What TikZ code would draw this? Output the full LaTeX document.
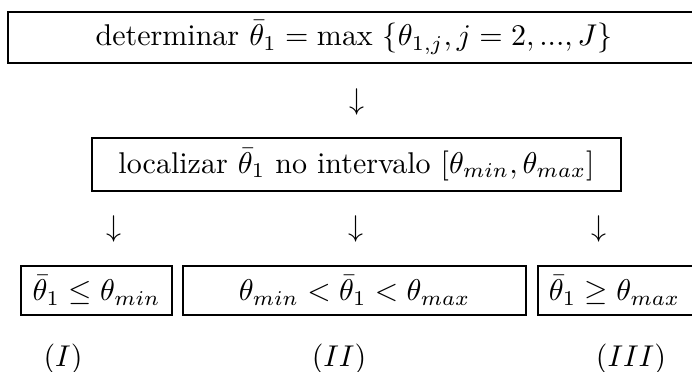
\documentclass[tikz,border=0pt]{standalone}
\def\pxu{0.333pt}
\begin{document}
\begin{tikzpicture}[x=\pxu,y=-\pxu,
  box/.style={draw, line width=0.55pt, inner sep=0pt},
  lbl/.style={inner sep=0pt}]
\useasboundingbox (0,0) rectangle (692,372);
\clip (0,0) rectangle (692,372);
\node[box, minimum width=692*\pxu, minimum height=51*\pxu] (top) at (354,37.5)
  {determinar $\bar\theta_1 = \max\ \{\theta_{1,j}, j=2,...,J\}$};
\node[lbl] (a1) at (357,101.5) {$\downarrow$};
\node[box, minimum width=529*\pxu, minimum height=53*\pxu] (mid) at (356.5,164.5)
  {localizar $\bar\theta_1$ no intervalo $[\theta_{min},\theta_{max}]$};
\node[lbl] (a2) at (114,229) {$\downarrow$};
\node[lbl] (a3) at (356,229) {$\downarrow$};
\node[lbl] (a4) at (599,229) {$\downarrow$};
\node[box, minimum width=151*\pxu, minimum height=49*\pxu] (b1) at (96.5,290.5)
  {$\bar\theta_1 \le \theta_{min}$};
\node[box, minimum width=343*\pxu, minimum height=49*\pxu] (b2) at (354.5,290.5)
  {$\theta_{min} < \bar\theta_1 < \theta_{max}$};
\node[box, anchor=west, inner xsep=11*\pxu, text width=170*\pxu, align=left,
  minimum height=49*\pxu] (b3) at (537,290.5)
  {$\bar\theta_1 \ge \theta_{max}$};
\node[lbl, anchor=base] (l1) at (63,366) {$(I)$};
\node[lbl, anchor=base] (l2) at (339,366) {$(II)$};
\node[lbl, anchor=base] (l3) at (631,366) {$(III)$};
\end{tikzpicture}
\end{document}
